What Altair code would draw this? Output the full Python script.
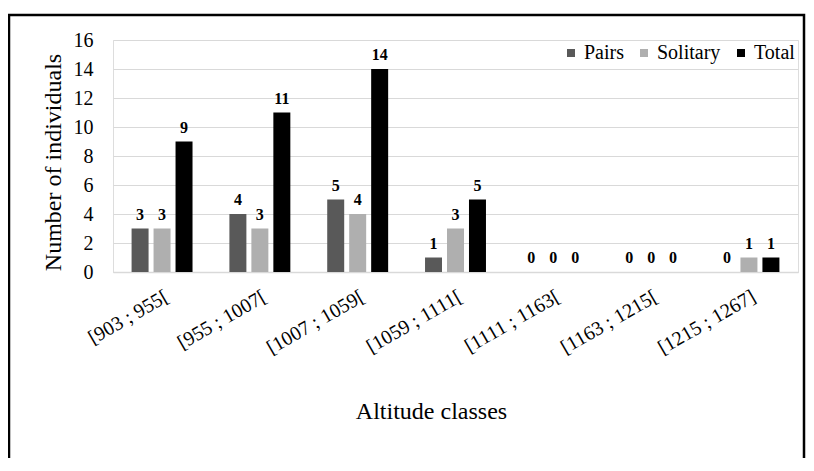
import altair as alt
import pandas as pd

categories = ["[903 ; 955[", "[955 ; 1007[", "[1007 ; 1059[", "[1059 ; 1111[",
              "[1111 ; 1163[", "[1163 ; 1215[", "[1215 ; 1267]"]
series_names = ["Pairs", "Solitary", "Total"]
pairs = [3, 4, 5, 1, 0, 0, 0]
solitary = [3, 3, 4, 3, 0, 0, 1]
total = [9, 11, 14, 5, 0, 0, 1]
colors = ["#595959", "#afafaf", "#000000"]
y_ticks = [0, 2, 4, 6, 8, 10, 12, 14, 16]

rows = []
for i, c in enumerate(categories):
    for s, vals in zip(series_names, [pairs, solitary, total]):
        rows.append({"cat": c, "series": s, "value": vals[i]})
df = pd.DataFrame(rows)

FONT = "Liberation Serif"
W, H = 685, 232

x_enc = alt.X("cat:N", sort=categories,
              scale=alt.Scale(paddingInner=0.377, paddingOuter=0.19),
              axis=alt.Axis(title="Altitude classes", labelAngle=-30, labelFontSize=20,
                            labelFont=FONT, labelColor="black", labelPadding=14,
                            ticks=False, domainColor="#d9d9d9", domainWidth=1.5,
                            titleFont=FONT, titleFontSize=24, titleFontWeight="normal",
                            titleColor="black", titleX=318, titleY=139,
                            titleBaseline="middle"))
xo_enc = alt.XOffset("series:N", sort=series_names,
                     scale=alt.Scale(paddingInner=0.227, paddingOuter=0))
y_enc = alt.Y("value:Q", scale=alt.Scale(domain=[0, 16], nice=False),
              axis=alt.Axis(title="Number of individuals", values=y_ticks,
                            labelFontSize=20, labelFont=FONT, labelColor="black",
                            labelPadding=20, ticks=False, domain=False,
                            gridColor="#d9d9d9", gridWidth=1.2,
                            titleFont=FONT, titleFontSize=24, titleFontWeight="normal",
                            titleColor="black", titleX=-60, titleY=122,
                            titleBaseline="middle"))

bars = alt.Chart(df).mark_bar().encode(
    x=x_enc, xOffset=xo_enc, y=y_enc,
    color=alt.Color("series:N", sort=series_names,
                    scale=alt.Scale(domain=series_names, range=colors),
                    legend=alt.Legend(title=None, orient="none", direction="horizontal",
                                      legendX=448, legendY=3, symbolType="square",
                                      symbolSize=64, symbolStrokeWidth=0,
                                      labelFont=FONT, labelFontSize=20, labelColor="black",
                                      labelOffset=3, columnPadding=10, padding=0)),
)

labels = alt.Chart(df).mark_text(font=FONT, fontSize=16, fontWeight="bold",
                                 baseline="middle", dy=-14, color="black").encode(
    x=x_enc, xOffset=xo_enc, y=y_enc, text="value:Q"
)

frame = alt.Chart(pd.DataFrame({"a": [0]})).mark_rect(
    fill=None, stroke="black", strokeWidth=2.5
).encode(
    x=alt.value(-104), x2=alt.value(691), y=alt.value(-25), y2=alt.value(600)
)

chart = alt.layer(bars, labels, frame).properties(
    width=W, height=H,
    autosize=alt.AutoSizeParams(type="none"),
    padding={"left": 105, "top": 32, "right": 8, "bottom": 186},
).configure_view(stroke=None).configure(background="white", font=FONT).configure_legend(
    labelFont=FONT
)

chart.save("out.html", embed_options={"renderer": "svg", "actions": False})
